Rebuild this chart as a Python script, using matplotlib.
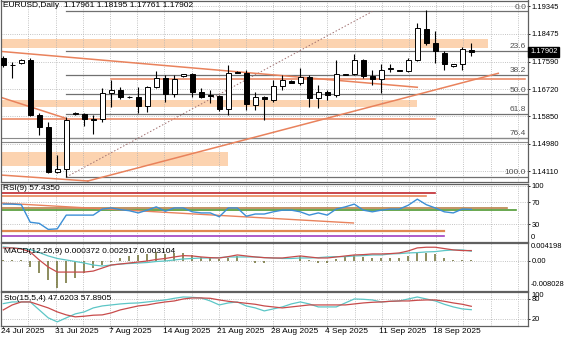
import numpy as np
import matplotlib.pyplot as plt
from matplotlib.transforms import blended_transform_factory

plt.rcParams['font.family'] = ['Liberation Sans', 'DejaVu Sans']

W, H = 564, 338

# EURUSD daily candles (bar 0 = 24 Jul 2025, Sunday bars included)
opens = [1.17696, 1.17474, 1.17538, 1.17633, 1.15889, 1.15509, 1.14083, 1.14178, 1.15921, 1.15921,
         1.15763, 1.15763, 1.16587, 1.16682, 1.16460, 1.16460, 1.16175, 1.16777, 1.17062, 1.16555,
         1.17126, 1.17189, 1.16619, 1.16523, 1.16492, 1.16080, 1.17253, 1.17221, 1.16206, 1.16460,
         1.16365, 1.16809, 1.16967, 1.16904, 1.17094, 1.16428, 1.16619, 1.16523, 1.17173, 1.17189,
         1.17633, 1.17126, 1.17031, 1.17348, 1.17316, 1.17284, 1.17633, 1.18616, 1.18172, 1.17855,
         1.17443, 1.17506, 1.17961]
highs = [1.17760, 1.17570, 1.17665, 1.17696, 1.15953, 1.15668, 1.14621, 1.15826, 1.15985, 1.15953,
         1.15889, 1.16745, 1.16999, 1.16777, 1.16492, 1.16777, 1.16809, 1.17284, 1.17157, 1.17157,
         1.17205, 1.17221, 1.16745, 1.16682, 1.16523, 1.17474, 1.17284, 1.17316, 1.16619, 1.16492,
         1.16999, 1.17157, 1.16999, 1.17379, 1.17157, 1.16840, 1.16682, 1.17633, 1.17205, 1.17823,
         1.17665, 1.17316, 1.17506, 1.17506, 1.17332, 1.17696, 1.18806, 1.19218, 1.18552, 1.17918,
         1.17506, 1.18045, 1.18195]
lows = [1.17411, 1.17062, 1.17506, 1.15858, 1.15255, 1.14051, 1.14051, 1.13924, 1.15889, 1.15541,
        1.15287, 1.15668, 1.16143, 1.16397, 1.16428, 1.15953, 1.15985, 1.16745, 1.16302, 1.16460,
        1.17110, 1.16460, 1.16428, 1.16270, 1.16016, 1.15889, 1.17221, 1.16048, 1.16048, 1.15731,
        1.16302, 1.16682, 1.16904, 1.16840, 1.16143, 1.16111, 1.16365, 1.16460, 1.17157, 1.17157,
        1.17062, 1.16840, 1.16587, 1.17253, 1.17284, 1.17253, 1.17601, 1.18108, 1.17538, 1.17316,
        1.17427, 1.17316, 1.17761]
closes = [1.17474, 1.17490, 1.17633, 1.15889, 1.15509, 1.14083, 1.14178, 1.15731, 1.15953, 1.15763,
          1.15747, 1.16587, 1.16682, 1.16460, 1.16476, 1.16175, 1.16777, 1.17062, 1.16555, 1.17031,
          1.17189, 1.16619, 1.16460, 1.16508, 1.16080, 1.17221, 1.17237, 1.16238, 1.16460, 1.16397,
          1.16809, 1.16999, 1.16904, 1.17094, 1.16428, 1.16619, 1.16523, 1.17189, 1.17189, 1.17633,
          1.17126, 1.17031, 1.17316, 1.17379, 1.17300, 1.17633, 1.18647, 1.18172, 1.17918, 1.17506,
          1.17506, 1.17982, 1.17902]

date_labels = ['24 Jul 2025', '31 Jul 2025', '7 Aug 2025', '14 Aug 2025', '21 Aug 2025',
               '28 Aug 2025', '4 Sep 2025', '11 Sep 2025', '18 Sep 2025']
date_bars = [0, 6, 12, 18, 24, 30, 36, 42, 48]
price_ticks = [1.19345, 1.18475, 1.17590, 1.16720, 1.15850, 1.14980, 1.14110]

# indicators
rsi = [67, 67, 66, 34, 32, 21, 22, 47, 47, 47, 47, 58, 60, 57, 55, 51, 56, 62, 54, 60,
       60, 53, 51, 51, 44, 60, 60, 45, 49, 49, 53, 56, 56, 53, 47, 51, 47, 58, 62, 67,
       56, 53, 56, 58, 58, 65, 76, 66, 60, 53, 51, 58, 57.4350]
macd_hist = [0.0003, 0.0003, 0.0002, -0.0017, -0.0036, -0.0057, -0.008028, -0.0066, -0.0051, -0.0036,
             -0.0021, -0.0012, -0.0002, 0.0009, 0.0015, 0.0018, 0.0021, 0.0028, 0.0021, 0.0024,
             0.0025, 0.0018, 0.0013, 0.0009, 0.0006, 0.0009, 0.0015, 0.0001, -0.0005, -0.0006,
             -0.0001, 0.0001, 0.0001, 0.0015, 0.0002, -0.0005, -0.0006, 0.0006, 0.0013, 0.0018,
             0.0013, 0.0009, 0.0009, 0.0009, 0.0009, 0.0015, 0.0025, 0.0025, 0.0021, 0.0009,
             0.0002, 0.0002, 0.000372]
macd_red = [0.0039, 0.0039, 0.0036, 0.0027, 0.0003, -0.0018, -0.0033, -0.0033, -0.0033, -0.0033,
            -0.0030, -0.0021, -0.0012, -0.0009, -0.0006, -0.0003, 0.0, 0.00045, 0.00075, 0.0012,
            0.0016, 0.0015, 0.0012, 0.0010, 0.0009, 0.0013, 0.0018, 0.0015, 0.0012, 0.0010,
            0.0009, 0.0009, 0.0012, 0.0015, 0.0012, 0.0009, 0.0009, 0.0012, 0.0015, 0.0018,
            0.0019, 0.0021, 0.0021, 0.0022, 0.0024, 0.0030, 0.0039, 0.0041, 0.0041, 0.0037,
            0.0033, 0.0031, 0.003104]
macd_cyan = [0.004198, 0.0039, 0.0037, 0.0034, 0.0025, 0.0015, 0.00075, 0.0003, -0.00015, -0.0006,
             -0.0012, -0.0015, -0.0012, -0.0009, -0.00075, -0.0006, -0.00045, -0.00015, 0.0, 0.0003,
             0.0006, 0.00075, 0.0009, 0.0009, 0.0010, 0.0012, 0.0012, 0.0012, 0.0012, 0.0010,
             0.0009, 0.00075, 0.00075, 0.0009, 0.0009, 0.0010, 0.0012, 0.0013, 0.0013, 0.0015,
             0.0016, 0.0018, 0.0018, 0.0021, 0.0022, 0.0024, 0.0025, 0.0027, 0.0028, 0.0031,
             0.0033, 0.0033, 0.002917]
sto_main = [66, 71, 71, 71, 47, 23, 11, 23, 35, 41, 53, 59, 62, 65, 67, 68, 71, 74, 77, 82,
            86, 85, 83, 74, 62, 68, 71, 59, 53, 44, 50, 56, 65, 71, 65, 56, 56, 56, 68, 80,
            79, 77, 71, 73, 74, 80, 86, 80, 74, 64, 56, 50, 47.6203]
sto_signal = [47, 62, 71, 71, 62, 53, 41, 32, 26, 28, 31, 32, 38, 47, 53, 59, 62, 67, 71, 74,
              80, 83, 83, 82, 77, 73, 70, 67, 64, 59, 56, 53, 56, 59, 62, 62, 62, 62, 62, 65,
              68, 70, 71, 73, 74, 74, 76, 77, 77, 73, 68, 64, 57.8905]

# drawn objects on the price chart
fib_low, fib_low_bar = 1.13924, 7
fib_high, fib_high_bar = 1.19186, 41
fib_levels = [0.0, 23.6, 38.2, 50.0, 61.8, 76.4, 100.0]
zones = [(1.18013, 1.18299, -0.3, 53.9), (1.16143, 1.16365, -0.3, 46), (1.14273, 1.14717, -0.3, 25)]
trendlines = [((-0.3, 1.17918), (46, 1.16777)), ((-0.3, 1.16460), (6.9, 1.15795)),
              ((-0.3, 1.13988), (9.4, 1.13798)), ((9.4, 1.13798), (55, 1.17221))]
orange_levels = [(1.17031, 12, 58), (1.15763, -0.3, 48)]
gray_levels = [1.15160, 1.15050]

# drawn objects on the RSI window
rsi_levels = [(88, '#c0282d', 48, 1.2), (82, '#e8885a', 47, 1.2), (57, '#4f9a32', 57, 1.2),
              (59.5, '#b98048', 56, 1.2), (18.7, '#e08850', 49, 1.6), (9, '#a040c0', 49, 1.2)]
rsi_trend = ((-0.3, 69), (38.9, 32.7))

ORANGE = '#e9825c'
PEACH = '#fcd3b0'
GRID = dict(color='#b0b0b0', linestyle=':', linewidth=0.6)
FS = 6.0
TFS = 5.4
XMIN, XMAX = -0.25, 58.3

fig = plt.figure(figsize=(W / 100, H / 100), dpi=100)


def pane(top, bottom):
    return fig.add_axes([1 / W, 1 - bottom / H, 527 / W, (bottom - top) / H])


ax = pane(0.5, 182)
ax_rsi = pane(183.5, 241.5)
ax_macd = pane(243, 290.5)
ax_sto = pane(292, 325.5)

vgrid = np.arange(2.8, XMAX, 3.02)
for a in (ax, ax_rsi, ax_macd, ax_sto):
    a.set_xlim(XMIN, XMAX)
    a.set_xticks(vgrid)
    a.tick_params(axis='x', length=0, labelbottom=False)
    a.yaxis.tick_right()
    a.tick_params(axis='y', labelsize=TFS, length=1.5, pad=1.0, width=0.6)
    a.grid(True, **GRID)
    a.set_axisbelow(True)
    for s in a.spines.values():
        s.set_color('#606060')
        s.set_linewidth(0.9)

# --- price chart ---
idx = np.arange(len(closes))
o, h, l, c = map(np.array, (opens, highs, lows, closes))
ax.set_ylim(1.13766, 1.19535)
ax.set_yticks(price_ticks)
ax.set_yticklabels([f'{p:.5f}' for p in price_ticks])

for lo, hi, x0, x1 in zones:
    ax.fill_between([x0, x1], lo, hi, color=PEACH, lw=0, zorder=0.5)

rng = fib_high - fib_low
for lev in fib_levels:
    p = fib_high - lev / 100 * rng
    ax.plot([fib_low_bar, XMAX], [p, p], color='#707070', lw=0.9, zorder=1)
    ax.text(XMAX - 0.2, p + 0.0002, f'{lev:.1f}', ha='right', va='bottom',
            fontsize=FS, color='#505050')
for p in gray_levels:
    ax.axhline(p, color='#8a8a8a', lw=0.8, zorder=1)
ax.plot([fib_low_bar, fib_high_bar], [fib_low, fib_high], color='#a07070', lw=0.7,
        linestyle=(0, (1.5, 2)), zorder=1)

for p, x0, x1 in orange_levels:
    ax.plot([x0, x1], [p, p], color=ORANGE, lw=1.1, zorder=2)
for (x0, y0), (x1, y1) in trendlines:
    ax.plot([x0, x1], [y0, y1], color=ORANGE, lw=1.1, zorder=2)

up = c >= o
body_lo = np.minimum(o, c)
body_h = np.maximum(np.abs(c - o), 0.00004)
ax.vlines(idx, l, h, color='black', lw=0.8, zorder=3)
ax.bar(idx[up], body_h[up], bottom=body_lo[up], width=0.6, facecolor='white',
       edgecolor='black', lw=0.7, zorder=4)
ax.bar(idx[~up], body_h[~up], bottom=body_lo[~up], width=0.6, facecolor='black',
       edgecolor='black', lw=0.7, zorder=4)

ax.text(0.004, 0.99, f'EURUSD,Daily  {o[-1]:.5f} {h[-1]:.5f} {l[-1]:.5f} {c[-1]:.5f}',
        transform=ax.transAxes, ha='left', va='top', fontsize=FS, zorder=6)
ax.text(1.004, c[-1], f'{c[-1]:.5f}', transform=ax.get_yaxis_transform(), ha='left',
        va='center', fontsize=TFS, color='white', clip_on=False, zorder=6,
        bbox=dict(facecolor='black', edgecolor='black', pad=1.2))

# --- RSI ---
ax_rsi.set_ylim(-1, 104.5)
ax_rsi.set_yticks([100, 70, 30])
ax_rsi.text(1.006, 0, '0', transform=ax_rsi.get_yaxis_transform(), ha='left',
            va='bottom', fontsize=TFS, clip_on=False)
for val, col, x1, lw in rsi_levels:
    ax_rsi.plot([XMIN, x1], [val, val], color=col, lw=lw, zorder=2)
(tx0, ty0), (tx1, ty1) = rsi_trend
ax_rsi.plot([tx0, tx1], [ty0, ty1], color=ORANGE, lw=1.0, zorder=2)
ax_rsi.plot(idx, rsi, color='#3c8fd6', lw=1.0, zorder=3)
ax_rsi.text(0.004, 0.97, f'RSI(9) {rsi[-1]:.4f}', transform=ax_rsi.transAxes,
            ha='left', va='top', fontsize=FS)

# --- MACD ---
ax_macd.set_ylim(-0.00879, 0.00536)
ax_macd.set_yticks([0.0])
ax_macd.set_yticklabels(['0.00'])
ytr = ax_macd.get_yaxis_transform()
ax_macd.text(1.006, 0.004198, '0.004198', transform=ytr, ha='left', va='center',
             fontsize=TFS, clip_on=False)
ax_macd.text(1.006, -0.008028, '-0.008028', transform=ytr, ha='left', va='bottom',
             fontsize=TFS, clip_on=False)
ax_macd.vlines(idx, 0, macd_hist, color='#6e6e32', lw=1.1, zorder=2)
ax_macd.plot(idx, macd_cyan, color='#5cc6c6', lw=0.9, zorder=3)
ax_macd.plot(idx, macd_red, color='#c84b4b', lw=0.9, zorder=3)
ax_macd.text(0.006, 0.9, f'MACD(12,26,9) {macd_hist[-1]:.6f} {macd_cyan[-1]:.6f} {macd_red[-1]:.6f}',
             transform=ax_macd.transAxes, ha='left', va='top', fontsize=FS, zorder=5)

# --- Stochastic ---
ax_sto.set_ylim(0, 101)
ax_sto.set_yticks([80, 20])
ax_sto.text(1.006, 100, '100', transform=ax_sto.get_yaxis_transform(), ha='left',
            va='top', fontsize=TFS, clip_on=False)
ax_sto.plot(idx, sto_main, color='#5cc6c6', lw=0.9, zorder=3)
ax_sto.plot(idx, sto_signal, color='#c84b4b', lw=0.9, zorder=3)
ax_sto.text(0.006, 0.9, f'Sto(15,5,4) {sto_main[-1]:.4f} {sto_signal[-1]:.4f}',
            transform=ax_sto.transAxes, ha='left', va='top', fontsize=FS, zorder=5)

tr = blended_transform_factory(ax_sto.transData, ax_sto.transAxes)
for b, lab in zip(date_bars, date_labels):
    ax_sto.text(b - 0.3, -0.08, lab, transform=tr, ha='left', va='top', fontsize=FS)
    ax_sto.plot([b, b], [0, -0.06], transform=tr, color='#606060', lw=0.7, clip_on=False)

fig.savefig('out.png', dpi=100, facecolor='white')
